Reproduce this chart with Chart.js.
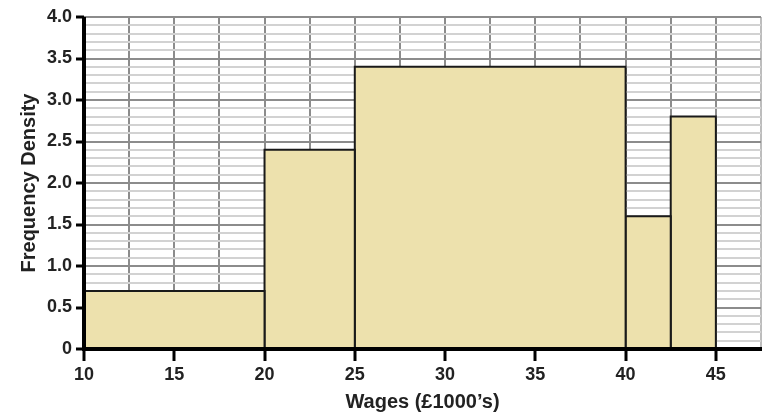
<!DOCTYPE html>
<html>
<head>
<meta charset="utf-8">
<script src="https://cdn.jsdelivr.net/npm/chart.js@4.4.1/dist/chart.umd.min.js"></script>
<style>
  body { margin: 0; background: #fff; }
  #wrap { width: 767px; height: 416px; }
</style>
</head>
<body>
<div id="wrap"><canvas id="hist"></canvas></div>
<script>
// class boundaries (wages, £1000's) and frequency density of each class
const classEdges = [10, 20, 25, 40, 42.5, 45];
const densities = [0.7, 2.4, 3.4, 1.6, 2.8];
const xLabels = [10, 15, 20, 25, 30, 35, 40, 45];
const yLabels = [0, 0.5, 1.0, 1.5, 2.0, 2.5, 3.0, 3.5, 4.0];

const barFill = '#ede1ad';
const darkGrid = '#8c8c8c';
const lightGrid = '#d2d2d2';

// one closed outline per class, filled down to zero
const datasets = densities.map((d, i) => {
  const x0 = classEdges[i], x1 = classEdges[i + 1];
  return {
    data: [{x: x0, y: 0}, {x: x0, y: d}, {x: x1, y: d}, {x: x1, y: 0}],
    showLine: true,
    fill: 'origin',
    backgroundColor: barFill,
    borderColor: '#1a1a1a',
    borderWidth: 2,
    pointRadius: 0,
    tension: 0
  };
});

const isXLabel = v => xLabels.some(x => Math.abs(x - v) < 1e-6);
const isYLabel = v => yLabels.some(y => Math.abs(y - v) < 1e-6);

const font = {family: 'Liberation Sans, Arial, sans-serif', weight: 'bold'};

// thick axis lines, drawn last so the bars don't cover them
const axisLines = {
  id: 'axisLines',
  afterDraw(chart) {
    const {ctx, chartArea, scales} = chart;
    const y0 = scales.y.getPixelForValue(0);
    ctx.save();
    ctx.strokeStyle = '#000000';
    ctx.lineWidth = 4;
    ctx.beginPath();
    ctx.moveTo(chartArea.left, chartArea.top);
    ctx.lineTo(chartArea.left, y0);
    ctx.stroke();
    ctx.fillStyle = '#000000';
    ctx.fillRect(chartArea.left - 2, y0 - 2, chartArea.right - chartArea.left + 3, 4);
    ctx.restore();
  }
};

new Chart(document.getElementById('hist'), {
  type: 'scatter',
  data: { datasets },
  plugins: [axisLines],
  options: {
    responsive: true,
    maintainAspectRatio: false,
    animation: false,
    layout: { padding: {top: 17, right: 6, left: 0, bottom: 0} },
    plugins: { legend: {display: false}, tooltip: {enabled: false} },
    scales: {
      x: {
        type: 'linear',
        min: 10,
        max: 47.5,
        afterFit: s => { s.height = 67; },
        border: { display: false },
        grid: {
          color: ctx => ctx.tick && ctx.tick.value === 47.5 ? '#bdbdbd' : darkGrid,
          lineWidth: 2,
          tickLength: 12,
          tickWidth: 3,
          tickColor: ctx => ctx.tick && isXLabel(ctx.tick.value) ? '#000' : 'rgba(0,0,0,0)'
        },
        ticks: {
          stepSize: 2.5,
          autoSkip: false,
          maxRotation: 0,
          padding: 3,
          color: '#222',
          font: {...font, size: 18},
          callback: v => isXLabel(v) ? String(v) : ''
        },
        title: {
          display: true,
          text: 'Wages (£1000’s)',
          color: '#222',
          font: {...font, size: 20},
          padding: {top: 2, bottom: 2}
        }
      },
      y: {
        min: 0,
        max: 4,
        afterFit: s => { s.width = 84; },
        border: { display: false },
        grid: {
          color: ctx => ctx.tick && isYLabel(ctx.tick.value) ? darkGrid : lightGrid,
          lineWidth: 2,
          tickLength: 8,
          tickWidth: 3,
          tickColor: ctx => ctx.tick && isYLabel(ctx.tick.value) ? '#000' : 'rgba(0,0,0,0)'
        },
        ticks: {
          stepSize: 0.1,
          maxTicksLimit: 100,
          autoSkip: false,
          padding: 4,
          color: '#222',
          font: {...font, size: 18},
          callback: v => isYLabel(v) ? (v === 0 ? '0' : v.toFixed(1)) : ''
        },
        title: {
          display: true,
          text: 'Frequency Density',
          color: '#222',
          font: {...font, size: 20},
          padding: {top: 17, bottom: 4}
        }
      }
    }
  }
});
</script>
</body>
</html>
